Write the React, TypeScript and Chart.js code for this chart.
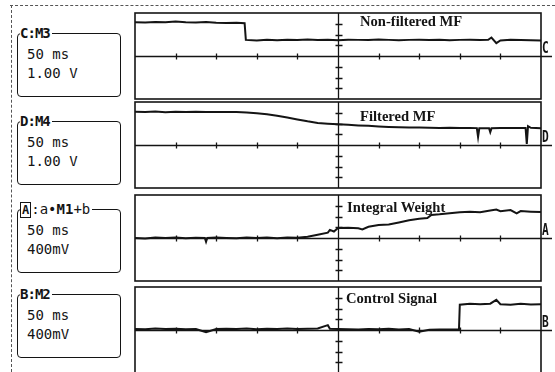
import React, { useEffect, useRef } from "react";
import { Chart, registerables } from "chart.js";

Chart.register(...registerables);

// ---- data (time in divisions of 50 ms, amplitude in vertical divisions) ----
const timeC = [0, 0.25, 0.5, 0.75, 1, 1.25, 1.5, 1.75, 2, 2.25, 2.5, 2.7, 2.73, 3, 3.25, 3.5, 3.75, 4, 4.25, 4.5, 4.75, 5, 5.25, 5.5, 5.75, 6, 6.25, 6.5, 6.75, 7, 7.25, 7.5, 7.75, 8, 8.25, 8.5, 8.7, 8.78, 8.9, 9.0, 9.25, 9.5, 9.75, 10];
const valuesC = [3.15, 3.12, 3.17, 3.13, 3.2, 3.14, 3.12, 3.16, 3.1, 3.08, 3.1, 3.05, 1.5, 1.45, 1.52, 1.47, 1.5, 1.48, 1.53, 1.49, 1.5, 1.46, 1.52, 1.5, 1.48, 1.53, 1.5, 1.47, 1.5, 1.52, 1.48, 1.5, 1.47, 1.5, 1.52, 1.49, 1.5, 1.72, 1.2, 1.45, 1.5, 1.48, 1.46, 1.45];

const timeD = [0, 0.25, 0.5, 0.75, 1, 1.25, 1.5, 1.75, 2, 2.25, 2.5, 2.75, 3, 3.25, 3.5, 3.75, 4, 4.25, 4.5, 4.75, 5, 5.25, 5.5, 5.75, 6, 6.25, 6.5, 6.75, 7, 7.25, 7.5, 7.75, 8, 8.25, 8.42, 8.45, 8.48, 8.72, 8.75, 8.78, 9, 9.25, 9.5, 9.62, 9.65, 9.68, 9.75, 10];
const valuesD = [3.1, 3.08, 3.12, 3.05, 3.1, 3.07, 3.1, 3.08, 3.08, 3.06, 3.07, 3.03, 2.95, 2.85, 2.72, 2.55, 2.38, 2.2, 2.05, 1.98, 1.92, 1.88, 1.82, 1.78, 1.72, 1.68, 1.66, 1.63, 1.62, 1.6, 1.58, 1.6, 1.57, 1.58, 1.57, 0.75, 1.55, 1.56, 1.2, 1.55, 1.57, 1.58, 1.57, 1.58, 0.1, 1.75, 1.6, 1.55];

const timeA = [0, 0.25, 0.5, 0.75, 1, 1.25, 1.5, 1.72, 1.75, 1.78, 2, 2.25, 2.5, 2.75, 3, 3.25, 3.5, 3.75, 4, 4.25, 4.5, 4.75, 4.8, 4.9, 5, 5.25, 5.5, 5.6, 5.75, 6, 6.25, 6.5, 6.75, 7, 7.2, 7.3, 7.5, 7.75, 8, 8.25, 8.5, 8.75, 8.9, 9, 9.25, 9.4, 9.5, 9.75, 10];
const valuesA = [0, -0.05, 0.04, 0, 0.05, -0.03, 0.03, 0, -0.35, 0, 0.05, 0, -0.03, 0.05, 0, 0.04, -0.02, 0.05, 0.02, 0.12, 0.3, 0.5, 0.75, 0.6, 0.92, 0.95, 0.9, 0.8, 1.05, 1.2, 1.25, 1.45, 1.65, 1.8, 1.85, 2.15, 2.2, 2.3, 2.4, 2.45, 2.4, 2.55, 2.65, 2.5, 2.6, 2.3, 2.5, 2.45, 2.42];

const timeB = [0, 0.25, 0.5, 0.75, 1, 1.25, 1.5, 1.75, 2, 2.25, 2.5, 2.75, 3, 3.25, 3.5, 3.75, 4, 4.25, 4.5, 4.75, 4.8, 5, 5.25, 5.5, 5.75, 6, 6.25, 6.5, 6.75, 7, 7.25, 7.5, 7.75, 7.98, 8.0, 8.25, 8.5, 8.75, 8.9, 9, 9.25, 9.5, 9.75, 10];
const valuesB = [0.1, 0.08, 0.15, 0.1, 0.12, 0.08, 0.1, -0.2, 0.1, 0.12, 0.1, 0.15, 0.08, 0.12, 0.1, 0.15, 0.1, 0.12, 0.15, 0.45, 0.12, 0.1, 0.08, 0.05, 0.1, 0.08, 0.12, 0.05, 0.1, -0.15, 0.02, 0.05, 0.05, 0.08, 2.35, 2.45, 2.4, 2.45, 2.8, 2.4, 2.35, 2.45, 2.38, 2.4];

const panelTitles = ["Non-filtered MF", "Filtered MF", "Integral Weight", "Control Signal"];
const channelLetters = ["C", "D", "A", "B"];
const sourceNames = ["M3", "M4", "a\u2022M1+b", "M2"];
const timeScales = ["50 ms", "50 ms", "50 ms", "50 ms"];
const voltScales = ["1.00 V", "1.00 V", "400mV", "400mV"];
const xDivisions = 10;
const yDivisions = 8;

const seriesTimes = [timeC, timeD, timeA, timeB];
const seriesValues = [valuesC, valuesD, valuesA, valuesB];

// ---- layout ----
const PANEL_TOPS = [13, 102, 195, 287];
const PANEL_H = 86;
const PANEL_L = 135;
const PANEL_R = 541;
const CANVAS_L = 128;
const CANVAS_W = 555 - CANVAS_L;
const BOX_TOPS = [33, 121, 209, 294];
const TITLE_POS = [
  { left: 360, top: 13 },
  { left: 360, top: 108 },
  { left: 347, top: 199 },
  { left: 346, top: 290 },
];

const INK = "#141414";

const scopeGrid = {
  id: "scopeGrid",
  beforeDatasetsDraw(chart: any) {
    const { ctx, chartArea: a, scales } = chart;
    const xs = scales.x;
    const ys = scales.y;
    ctx.save();
    ctx.strokeStyle = INK;
    ctx.lineWidth = 1.6;
    ctx.strokeRect(a.left, a.top, a.right - a.left, a.bottom - a.top);
    const cy = Math.round(ys.getPixelForValue(0)) + 0.5;
    const cx = Math.round(xs.getPixelForValue(xDivisions / 2)) + 0.5;
    ctx.lineWidth = 1.3;
    ctx.beginPath();
    ctx.moveTo(a.left, cy);
    ctx.lineTo(a.right + 11, cy);
    ctx.moveTo(cx, a.top);
    ctx.lineTo(cx, a.bottom);
    for (let i = 1; i < xDivisions; i++) {
      const px = Math.round(xs.getPixelForValue(i)) + 0.5;
      ctx.moveTo(px, cy - 3);
      ctx.lineTo(px, cy + 3);
    }
    for (let j = -yDivisions / 2 + 1; j < yDivisions / 2; j++) {
      if (j === 0) continue;
      const py = Math.round(ys.getPixelForValue(j)) + 0.5;
      ctx.moveTo(cx - 3, py);
      ctx.lineTo(cx + 4, py);
    }
    ctx.stroke();
    ctx.restore();
  },
};

function Panel({ index }: { index: number }) {
  const ref = useRef<HTMLCanvasElement | null>(null);
  useEffect(() => {
    if (!ref.current) return;
    const t = seriesTimes[index];
    const v = seriesValues[index];
    const chart = new Chart(ref.current, {
      type: "line",
      data: {
        datasets: [
          {
            data: t.map((x, i) => ({ x, y: v[i] })),
            borderColor: INK,
            borderWidth: 2,
            pointRadius: 0,
            tension: 0,
            fill: false,
          },
        ],
      },
      options: {
        animation: false,
        responsive: false,
        devicePixelRatio: 1,
        events: [],
        layout: {
          padding: {
            left: PANEL_L - CANVAS_L,
            right: 555 - PANEL_R,
            top: 4,
            bottom: 4,
          },
        },
        plugins: { legend: { display: false }, tooltip: { enabled: false } },
        scales: {
          x: { type: "linear", min: 0, max: xDivisions, display: false },
          y: { min: -yDivisions / 2, max: yDivisions / 2, display: false },
        },
      },
      plugins: [scopeGrid],
    } as any);
    return () => chart.destroy();
  }, [index]);
  return (
    <canvas
      ref={ref}
      width={CANVAS_W}
      height={PANEL_H + 8}
      style={{ position: "absolute", left: CANVAS_L, top: PANEL_TOPS[index] - 4, width: CANVAS_W, height: PANEL_H + 8 }}
    />
  );
}

const mono = '"DejaVu Sans Mono", monospace';

function InfoBox({ index }: { index: number }) {
  const top = BOX_TOPS[index];
  const letter = channelLetters[index];
  const src = sourceNames[index];
  return (
    <div
      style={{
        position: "absolute",
        left: 17,
        top,
        width: 104,
        height: 64,
        boxSizing: "border-box",
        border: `1.5px solid ${INK}`,
        borderRadius: 4,
      }}
    >
      <div
        style={{
          position: "absolute",
          left: 2,
          top: -9,
          background: "#fff",
          paddingRight: 2,
          fontFamily: mono,
          fontSize: 14,
          lineHeight: "16px",
          color: INK,
          whiteSpace: "nowrap",
        }}
      >
        {index === 2 ? (
          <span>
            <span style={{ fontWeight: "bold", border: `1.5px solid ${INK}`, padding: "0 1px", fontSize: 12 }}>{letter}</span>
            <span>:a</span>
            <span>{"\u2022"}</span>
            <span style={{ fontWeight: "bold" }}>M1</span>
            <span>+b</span>
          </span>
        ) : (
          <span style={{ fontWeight: "bold", letterSpacing: -1 }}>
            {letter}:{src}
          </span>
        )}
      </div>
      <div
        style={{
          position: "absolute",
          left: 9,
          top: 11,
          fontFamily: mono,
          fontSize: 14,
          lineHeight: "19px",
          color: INK,
          whiteSpace: "pre",
        }}
      >
        <div>{timeScales[index]}</div>
        <div>{voltScales[index]}</div>
      </div>
    </div>
  );
}

export default function App() {
  useEffect(() => {
    document.body.style.margin = "0";
  }, []);
  return (
    <div
      style={{
        position: "fixed",
        left: 0,
        top: 0,
        width: 555,
        height: 372,
        background: "#fff",
        overflow: "hidden",
      }}
    >
      <div style={{ position: "absolute", left: 10, top: 5, width: 545, height: 0, borderTop: "1px dashed #555" }} />
      <div style={{ position: "absolute", left: 11, top: 5, width: 0, height: 367, borderLeft: "1px dashed #555" }} />
      {[0, 1, 2, 3].map((i) => (
        <InfoBox key={"b" + i} index={i} />
      ))}
      {[0, 1, 2, 3].map((i) => (
        <Panel key={"p" + i} index={i} />
      ))}
      {[0, 1, 2, 3].map((i) => (
        <div
          key={"t" + i}
          style={{
            position: "absolute",
            left: TITLE_POS[i].left,
            top: TITLE_POS[i].top,
            fontFamily: '"Liberation Serif", "Times New Roman", serif',
            fontSize: 14.6,
            fontWeight: "bold",
            lineHeight: "16px",
            color: INK,
            whiteSpace: "nowrap",
          }}
        >
          {panelTitles[i]}
        </div>
      ))}
      {[0, 1, 2, 3].map((i) => (
        <div
          key={"l" + i}
          style={{
            position: "absolute",
            left: 542,
            top: PANEL_TOPS[i] + PANEL_H / 2 - 16,
            fontFamily: mono,
            fontSize: 16,
            fontWeight: "bold",
            lineHeight: "16px",
            color: INK,
            transform: "scaleX(0.7)",
            transformOrigin: "left top",
          }}
        >
          {channelLetters[i]}
        </div>
      ))}
    </div>
  );
}
